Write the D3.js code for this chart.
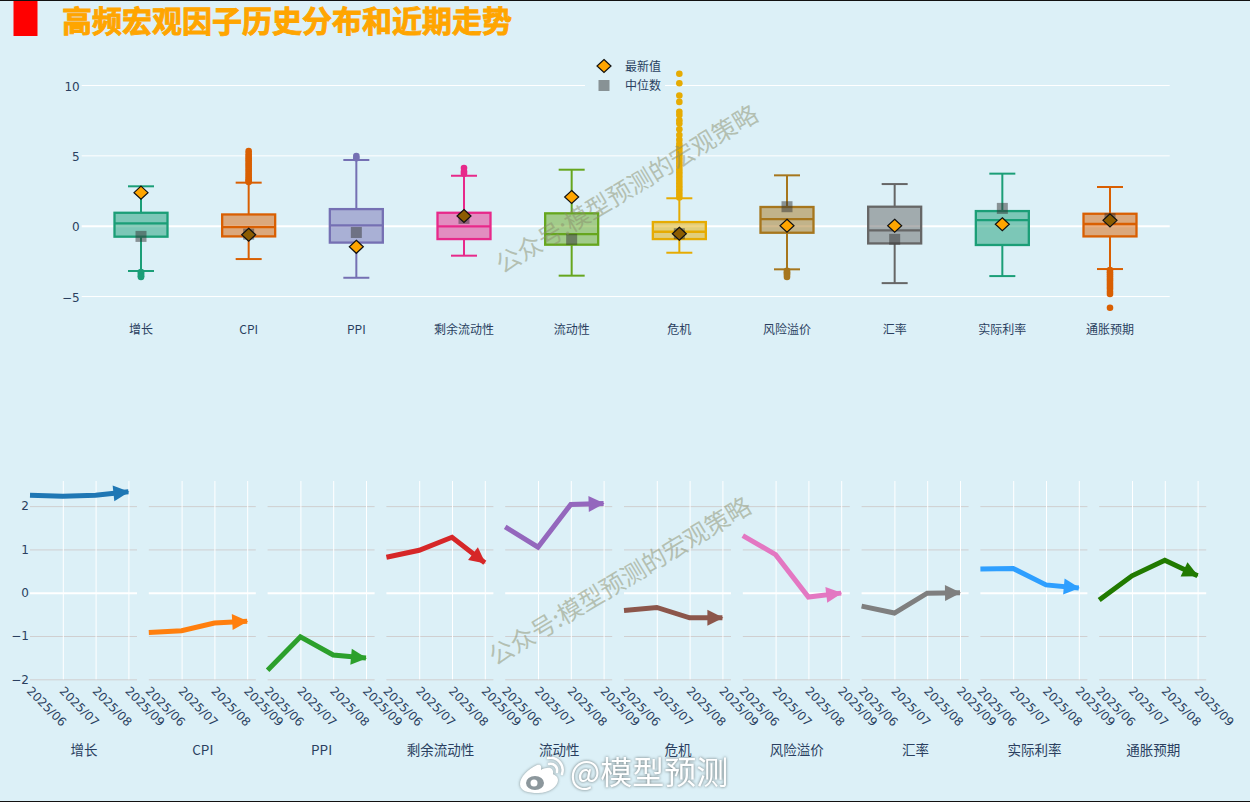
<!DOCTYPE html>
<html>
<head>
<meta charset="utf-8">
<script src="https://cdn.jsdelivr.net/npm/d3@7/dist/d3.min.js"></script>
<style>
  html, body { margin: 0; padding: 0; background: #dcf0f7; overflow: hidden; }
  svg { display: block; }
  text { font-family: "Noto Sans CJK SC", "DejaVu Sans", sans-serif; fill: #2a3f5f; }
  .tick text { font-family: "DejaVu Sans", sans-serif; }
</style>
</head>
<body>
<svg id="chart" width="1250" height="802"></svg>
<script>
const titleText = '高频宏观因子历史分布和近期走势';
const watermark = '公众号:模型预测的宏观策略';
const categories = ['增长', 'CPI', 'PPI', '剩余流动性', '流动性', '危机', '风险溢价', '汇率', '实际利率', '通胀预期'];
const months = ['2025/06', '2025/07', '2025/08', '2025/09'];

// box statistics, one entry per category
const whiskerLow = [-3.22, -2.37, -3.7, -2.13, -3.55, -1.92, -3.1, -4.08, -3.58, -3.08];
const q1 = [-0.78, -0.76, -1.2, -0.95, -1.35, -0.95, -0.5, -1.26, -1.37, -0.76];
const median = [0.17, -0.1, 0.02, -0.05, -0.6, -0.43, 0.47, -0.33, 0.4, 0.12];
const q3 = [0.92, 0.8, 1.18, 0.92, 0.88, 0.26, 1.33, 1.35, 1.04, 0.85];
const whiskerHigh = [2.8, 3.06, 4.67, 3.55, 3.98, 1.95, 3.58, 2.96, 3.7, 2.75];
const latest = [2.35, -0.64, -1.5, 0.69, 2.04, -0.57, 0, 0, 0.1, 0.38];
const medianMark = [-0.76, -0.6, -0.48, 0.52, -0.97, -0.57, 1.35, -0.97, 1.23, 0.5];
const outliers = [
  [-3.3, -3.4, -3.5, -3.6, -3.65],
  [3.1, 3.2, 3.3, 3.45, 3.6, 3.75, 3.9, 4.05, 4.2, 4.35, 4.5, 4.65, 4.8, 4.95, 5.1, 5.3],
  [4.8, 4.95],
  [3.7, 3.85, 4.1],
  [],
  [2.0, 2.2, 2.4, 2.6, 2.8, 3.0, 3.2, 3.4, 3.6, 3.8, 4.0, 4.2, 4.4, 4.6, 4.8, 5.0, 5.2, 5.4, 5.6, 5.8, 6.1, 6.45, 6.85, 7.27, 7.5, 7.87, 8.1, 8.8, 9.25, 10.12, 10.8],
  [-3.2, -3.3, -3.4, -3.5, -3.65],
  [],
  [],
  [-3.15, -3.3, -3.45, -3.6, -3.75, -3.9, -4.05, -4.2, -4.35, -4.5, -4.7, -4.85, -5.83]
];
const boxColors = ['#1b9e77', '#d95f02', '#7570b3', '#e7298a', '#66a61e', '#e6ab02', '#a6761d', '#666666', '#1b9e77', '#d95f02'];

// recent trend, one row per category
const trend = [
  [2.25, 2.23, 2.25, 2.33],
  [-0.92, -0.88, -0.7, -0.66],
  [-1.79, -1.02, -1.44, -1.51],
  [0.82, 0.98, 1.28, 0.69],
  [1.52, 1.05, 2.04, 2.06],
  [-0.41, -0.34, -0.58, -0.58],
  [1.32, 0.88, -0.1, -0.01],
  [-0.31, -0.47, -0.01, 0],
  [0.55, 0.56, 0.18, 0.11],
  [-0.17, 0.39, 0.75, 0.39]
];
const trendColors = ['#1f77b4', '#ff7f0e', '#2ca02c', '#d62728', '#9467bd', '#8c564b', '#e377c2', '#7f7f7f', '#2e9fff', '#217a00'];

const bg = '#dcf0f7';
const svg = d3.select('#chart');

svg.append('rect').attr('width', 1250).attr('height', 802).attr('fill', bg);
svg.append('rect').attr('width', 1250).attr('height', 1).attr('fill', '#111');
svg.append('rect').attr('y', 801).attr('width', 1250).attr('height', 1).attr('fill', '#111');

// title
svg.append('rect').attr('x', 13.5).attr('y', 1).attr('width', 24).attr('height', 35).attr('fill', '#ff0000');
svg.append('text').attr('x', 62).attr('y', 32).text(titleText)
  .style('font-size', '30px').style('font-weight', 700).style('fill', '#ffa500')
  .style('stroke', '#ffa500').style('stroke-width', 0.9);

// ---- box panel ----
const xBox = d3.scalePoint().domain(categories).range([141, 1110]);
const yBox = d3.scaleLinear().domain([-7, 11.5]).range([324.2, 63.9]);

const gridTop = svg.append('g').attr('transform', 'translate(81.7,0)')
  .call(d3.axisLeft(yBox).tickValues([-5, 0, 5, 10]).tickSize(-1088).tickPadding(2));
gridTop.select('.domain').remove();
gridTop.selectAll('.tick line').attr('stroke', '#fff').attr('stroke-width', d => d === 0 ? 2 : 1);
gridTop.selectAll('.tick text').attr('dy', '0.42em').style('font-size', '12px').style('fill', '#2a3f5f');

// legend sits on its own background and cuts the grid
svg.append('rect').attr('x', 585).attr('y', 57).attr('width', 80).attr('height', 38).attr('fill', bg);

const boxes = svg.append('g').selectAll('g').data(categories).join('g')
  .attr('transform', d => `translate(${xBox(d)},0)`);

boxes.append('line').attr('y1', (d, i) => yBox(whiskerLow[i])).attr('y2', (d, i) => yBox(q1[i]))
  .attr('stroke', (d, i) => boxColors[i]).attr('stroke-width', 2);
boxes.append('line').attr('y1', (d, i) => yBox(q3[i])).attr('y2', (d, i) => yBox(whiskerHigh[i]))
  .attr('stroke', (d, i) => boxColors[i]).attr('stroke-width', 2);
[whiskerLow, whiskerHigh].forEach(arr => {
  boxes.append('line').attr('x1', -13).attr('x2', 13)
    .attr('y1', (d, i) => yBox(arr[i])).attr('y2', (d, i) => yBox(arr[i]))
    .attr('stroke', (d, i) => boxColors[i]).attr('stroke-width', 2);
});
boxes.append('rect').attr('x', -26.5).attr('width', 53)
  .attr('y', (d, i) => yBox(q3[i])).attr('height', (d, i) => yBox(q1[i]) - yBox(q3[i]))
  .attr('fill', (d, i) => boxColors[i]).attr('fill-opacity', 0.5)
  .attr('stroke', (d, i) => boxColors[i]).attr('stroke-width', 2.3);
boxes.append('line').attr('x1', -26.5).attr('x2', 26.5)
  .attr('y1', (d, i) => yBox(median[i])).attr('y2', (d, i) => yBox(median[i]))
  .attr('stroke', (d, i) => boxColors[i]).attr('stroke-width', 2.3);
boxes.each(function(d, i) {
  d3.select(this).selectAll('circle').data(outliers[i]).join('circle')
    .attr('cy', v => yBox(v)).attr('r', 3.3).attr('fill', boxColors[i]);
});

const diamond = 'M0,-6.5L7,0L0,6.5L-7,0Z';
const square = 'M-5.5,-5.5H5.5V5.5H-5.5Z';
boxes.append('path').attr('d', square)
  .attr('transform', (d, i) => `translate(0,${yBox(medianMark[i])})`)
  .attr('fill', '#333').attr('fill-opacity', 0.5);
// where the two markers overlap the diamond comes out dark
boxes.append('path').attr('d', diamond)
  .attr('transform', (d, i) => `translate(0,${yBox(latest[i])})`)
  .attr('fill', (d, i) => Math.abs(latest[i] - medianMark[i]) < 0.3 ? '#8c5c00' : '#ffa500')
  .attr('stroke', '#111').attr('stroke-width', 1.2);

svg.append('g').selectAll('text').data(categories).join('text')
  .attr('x', d => xBox(d)).attr('y', 334).attr('text-anchor', 'middle')
  .style('font-size', '12px').text(d => d);

// legend
svg.append('path').attr('d', diamond).attr('transform', 'translate(604,66)')
  .attr('fill', '#ffa500').attr('stroke', '#111').attr('stroke-width', 1.2);
svg.append('path').attr('d', square).attr('transform', 'translate(604,85.5)')
  .attr('fill', '#333').attr('fill-opacity', 0.5);
svg.append('text').attr('x', 625).attr('y', 71).style('font-size', '12px').text('最新值');
svg.append('text').attr('x', 625).attr('y', 90).style('font-size', '12px').text('中位数');

// ---- small multiples ----
const panelStep = 118.8, panelW = 107;
const yLine = d3.scaleLinear().domain([-2, 2.58]).range([679.3, 481]);
const xLine = d3.scalePoint().domain(months).range([0, 98.4]);
const line = d3.line().x((d, i) => xLine(months[i])).y(d => yLine(d));

categories.forEach((name, i) => {
  const g = svg.append('g').attr('transform', `translate(${30 + panelStep * i},0)`);

  const gy = g.append('g').call(d3.axisLeft(yLine).tickValues([-2, -1, 0, 1, 2])
    .tickFormat(d3.format('d')).tickSize(-panelW).tickPadding(1));
  gy.select('.domain').remove();
  gy.selectAll('.tick line').attr('stroke', d => d === 0 ? '#fff' : '#d0cfd0').attr('stroke-width', d => d === 0 ? 2 : 1);
  gy.selectAll('.tick text').style('font-size', '12px').style('fill', '#2a3f5f').style('display', i === 0 ? null : 'none');

  const gx = g.append('g').attr('transform', `translate(0,${yLine(-2)})`)
    .call(d3.axisBottom(xLine).tickSize(-(yLine(-2) - 481)));
  gx.select('.domain').remove();
  gx.selectAll('.tick line').attr('stroke', '#fff').attr('stroke-width', 1)
    .style('display', d => d === months[0] ? 'none' : null);
  gx.selectAll('.tick text')
    .attr('y', 0).attr('dy', 0)
    .attr('transform', 'translate(-2,10) rotate(45)')
    .attr('text-anchor', 'start').attr('dominant-baseline', 'middle')
    .style('font-size', '12px').style('fill', '#2a3f5f');

  const row = trend[i];
  g.append('path').attr('d', line(row)).attr('fill', 'none')
    .attr('stroke', trendColors[i]).attr('stroke-width', 5).attr('stroke-linejoin', 'miter');

  // arrow head on the last point, pointing along the last segment
  const ang = Math.atan2(yLine(row[3]) - yLine(row[2]), xLine(months[3]) - xLine(months[2])) * 180 / Math.PI;
  g.append('path').attr('d', 'M1,0L-15,-8L-15,8Z')
    .attr('transform', `translate(${xLine(months[3])},${yLine(row[3])}) rotate(${ang})`)
    .attr('fill', trendColors[i]);

  g.append('text').attr('x', panelW / 2 + 0.5).attr('y', 755).attr('text-anchor', 'middle')
    .style('font-size', '13.5px').text(name);
});

// ---- watermarks ----
[[628, 191], [621, 583]].forEach(([cx, cy]) => {
  svg.append('text').attr('text-anchor', 'middle').attr('dominant-baseline', 'middle')
    .attr('transform', `translate(${cx},${cy}) rotate(-31)`)
    .style('font-size', '24.5px').style('fill', '#8a8f6c').style('fill-opacity', 0.5).text(watermark);
});

// weibo mark
const wb = svg.append('g').attr('transform', 'translate(520,758)')
  .style('filter', 'drop-shadow(0 0 1.5px rgba(70,80,80,.6))');
wb.append('path').attr('fill', '#fff')
  .attr('d', 'M17,7C8,11 0,19 0,26C0,33 8,35 18,35C30,35 38,28 38,22C38,18 34,17 33,16C34,12 31,9 27,10C24,10 22,11 21,12C22,7 20,6 17,7Z');
wb.append('ellipse').attr('cx', 15).attr('cy', 25).attr('rx', 9).attr('ry', 7).attr('fill', '#8c979c');
wb.append('circle').attr('cx', 14).attr('cy', 25).attr('r', 3.5).attr('fill', '#fff');
wb.append('path').attr('fill', 'none').attr('stroke', '#fff').attr('stroke-width', 2.5).attr('stroke-linecap', 'round')
  .attr('d', 'M29,6C34,5 38,9 37,14');
wb.append('path').attr('fill', 'none').attr('stroke', '#fff').attr('stroke-width', 2.5).attr('stroke-linecap', 'round')
  .attr('d', 'M28,0C37,-2 45,7 42,16');
svg.append('text').attr('x', 570).attr('y', 784).text('@模型预测')
  .style('font-size', '32px').style('fill', '#fff')
  .style('filter', 'drop-shadow(0 0 1.5px rgba(70,80,80,.8))');
</script>
</body>
</html>
